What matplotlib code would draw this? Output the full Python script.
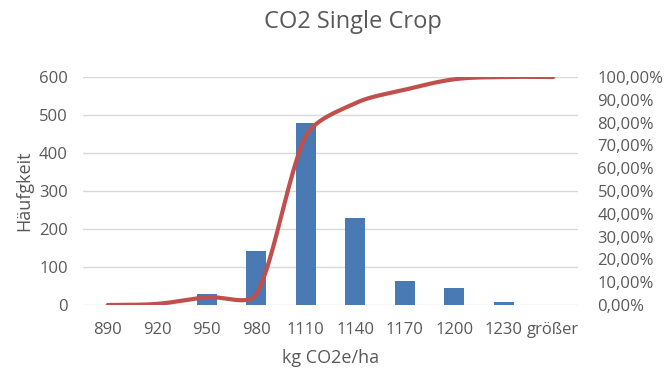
import numpy as np
import matplotlib
matplotlib.use("Agg")
import matplotlib.pyplot as plt
from matplotlib.ticker import FuncFormatter

# histogram classes (upper bin edges), counts and cumulative share
categories = ['890', '920', '950', '980', '1110', '1140', '1170', '1200', '1230', 'größer']
counts = [0, 0, 28, 143, 478, 228, 62, 44, 8, 0]
cum_pct = [0.0, 0.5, 3.4, 4.7, 74.0, 88.5, 94.4, 99.0, 100.0, 100.0]

grey = '#595959'
plt.rcParams['font.family'] = ['Open Sans', 'DejaVu Sans']


def smooth(xs, ys, sx=49.5, sy=2.28, n=40):
    # bezier smoothing like excel's "smoothed line";
    # tangents shrink next to a much longer neighbouring segment
    P = np.column_stack([np.asarray(xs, float) * sx, np.asarray(ys, float) * sy])
    P = np.vstack([P[0], P, P[-1]])
    t = np.linspace(0, 1, n)[:, None]
    out = []
    for i in range(1, len(P) - 2):
        p0, p1, p2, p3 = P[i - 1], P[i], P[i + 1], P[i + 2]
        d01 = np.linalg.norm(p1 - p0)
        d12 = np.linalg.norm(p2 - p1)
        d23 = np.linalg.norm(p3 - p2)
        k1 = min(1.0, 2 * d12 / max(d01 + d12, 1e-9))
        k2 = min(1.0, 2 * d12 / max(d12 + d23, 1e-9))
        c1 = p1 + (p2 - p0) * k1 / 6
        c2 = p2 - (p3 - p1) * k2 / 6
        out.append((1 - t) ** 3 * p1 + 3 * (1 - t) ** 2 * t * c1
                   + 3 * (1 - t) * t ** 2 * c2 + t ** 3 * p2)
    out = np.vstack(out)
    return out[:, 0] / sx, out[:, 1] / sy


fig = plt.figure(figsize=(6.64, 3.69), dpi=100)
ax = fig.add_axes([83 / 664, 1 - 305 / 369, (578 - 83) / 664, (305 - 77) / 369])
x = np.arange(len(categories))

ax.bar(x, counts, width=0.4, color='#4a7ab4', zorder=2)
ax.set_xlim(-0.5, len(categories) - 0.5)
ax.set_ylim(0, 600)
ax.set_yticks(range(0, 601, 100))
ax.yaxis.grid(True, color='#d9d9d9', lw=1)
ax.set_axisbelow(True)
ax.set_xticks(x)
ax.set_xticklabels(categories)
for s in ax.spines.values():
    s.set_visible(False)
ax.tick_params(length=0, labelsize=12, colors=grey, pad=12)
ax.tick_params(axis='y', pad=11)
ax.set_ylabel('Häufgkeit', fontsize=13, color=grey, labelpad=4)
ax.set_xlabel('kg CO2e/ha', fontsize=13, color=grey, labelpad=8)

ax2 = ax.twinx()
sx, sy = smooth(x, cum_pct)
ax2.plot(sx, sy, color='#c0504d', lw=3, solid_capstyle='round', zorder=3)
ax2.set_ylim(0, 100)
ax2.set_yticks(range(0, 101, 10))
ax2.yaxis.set_major_formatter(FuncFormatter(lambda v, p: f'{v:.2f}%'.replace('.', ',')))
for s in ax2.spines.values():
    s.set_visible(False)
ax2.tick_params(length=0, labelsize=12, colors=grey, pad=14)

fig.text(353 / 664, 1 - 28 / 369, 'CO2 Single Crop', fontsize=17, color=grey,
         ha='center', va='baseline')

fig.savefig('out.png', dpi=100)
